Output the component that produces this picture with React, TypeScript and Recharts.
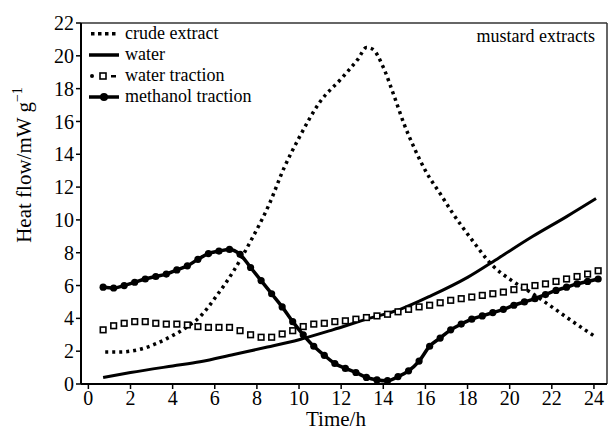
import React from 'react';
import { LineChart, Line, XAxis, YAxis, ReferenceLine } from 'recharts';

const xTicks = [0, 2, 4, 6, 8, 10, 12, 14, 16, 18, 20, 22, 24];
const yTicks = [0, 2, 4, 6, 8, 10, 12, 14, 16, 18, 20, 22];

const crudeT = [0.8, 1.5, 2, 2.8, 3.7, 4.7, 5.3, 6.1, 6.9, 7.7, 8.6, 9.3, 10, 11, 12, 12.8, 13.2, 13.5, 14, 14.5, 15, 15.5, 16, 16.7, 17.3, 18.2, 19.2, 20.1, 21.1, 22, 23, 24.1];
const crudeV = [1.95, 1.95, 2.0, 2.25, 2.75, 3.5, 4.1, 5.4, 6.9, 8.7, 11.0, 13.2, 15.0, 17.2, 18.6, 19.8, 20.5, 20.4, 19.3, 17.6, 15.8, 14.3, 13.0, 11.6, 10.4, 8.8, 7.2, 6.3, 5.5, 4.7, 3.8, 2.85];

const waterT = [0.7, 2, 4, 5.3, 6.9, 8.5, 10, 11.6, 13.2, 14.8, 16.3, 18, 19.5, 21.1, 22.7, 24.1];
const waterV = [0.4, 0.7, 1.1, 1.35, 1.8, 2.25, 2.7, 3.3, 3.95, 4.55, 5.4, 6.5, 7.7, 9.0, 10.2, 11.3];

const markT = [0.7, 1.2, 1.7, 2.2, 2.7, 3.2, 3.7, 4.2, 4.7, 5.2, 5.7, 6.2, 6.7, 7.2, 7.7, 8.2, 8.7, 9.2, 9.7, 10.2, 10.7, 11.2, 11.7, 12.2, 12.7, 13.2, 13.7, 14.2, 14.7, 15.2, 15.7, 16.2, 16.7, 17.2, 17.7, 18.2, 18.7, 19.2, 19.7, 20.2, 20.7, 21.2, 21.7, 22.2, 22.7, 23.2, 23.7, 24.2];
const waterTractionV = [3.3, 3.55, 3.7, 3.8, 3.8, 3.7, 3.65, 3.65, 3.6, 3.5, 3.45, 3.45, 3.45, 3.25, 3.0, 2.85, 2.85, 3.05, 3.25, 3.5, 3.65, 3.7, 3.8, 3.85, 3.95, 4.05, 4.15, 4.25, 4.4, 4.55, 4.7, 4.8, 4.95, 5.1, 5.2, 5.3, 5.4, 5.5, 5.6, 5.75, 5.9, 6.0, 6.1, 6.25, 6.4, 6.55, 6.7, 6.9];
const methanolTractionV = [5.9, 5.85, 6.0, 6.2, 6.4, 6.55, 6.7, 6.95, 7.2, 7.6, 7.95, 8.1, 8.2, 7.9, 7.1, 6.3, 5.5, 4.7, 3.8, 3.0, 2.3, 1.75, 1.25, 0.95, 0.7, 0.4, 0.25, 0.2, 0.45, 0.8, 1.4, 2.3, 2.8, 3.3, 3.65, 3.95, 4.15, 4.35, 4.55, 4.8, 5.0, 5.2, 5.45, 5.7, 5.9, 6.1, 6.25, 6.4];

const zip = (ts: number[], vs: number[]) => ts.map((t, i) => ({ t, v: vs[i] }));
const crudeData = zip(crudeT, crudeV);
const waterData = zip(waterT, waterV);
const waterTractionData = zip(markT, waterTractionV);
const methanolData = zip(markT, methanolTractionV);

const FONT = "'Liberation Serif', 'Times New Roman', Times, serif";

const SquareDot = (props: any) => {
  const { cx, cy, index } = props;
  if (cx == null || cy == null) return <g key={index} />;
  return <rect key={index} x={cx - 2.8} y={cy - 2.8} width={5.6} height={5.6} fill="#fff" stroke="#000" strokeWidth={1.6} />;
};

const CircleDot = (props: any) => {
  const { cx, cy, index } = props;
  if (cx == null || cy == null) return <g key={index} />;
  return <circle key={index} cx={cx} cy={cy} r={3.6} fill="#000" stroke="none" />;
};

const tickStyle = { fontFamily: FONT, fontSize: 20, fill: '#000', style: { fontFamily: FONT } } as any;
const T = (p: any) => <text fontFamily={FONT} style={{ fontFamily: FONT }} fill="#000" {...p} />;

export default function App() {
  return (
    <div style={{ position: 'absolute', left: 0, top: 0, width: 611, height: 432, background: '#fff', fontFamily: FONT }}>
      <LineChart width={611} height={432} margin={{ top: 23, right: 4, bottom: 0, left: 0 }} style={{ fontFamily: FONT }}>
        <XAxis
          dataKey="t"
          type="number"
          domain={[-0.35, 24.62]}
          allowDataOverflow
          ticks={xTicks}
          height={48}
          stroke="#000"
          strokeWidth={2}
          tickSize={5}
          tick={tickStyle}
          tickLine={{ stroke: '#000', strokeWidth: 1.5 }}
        />
        <YAxis
          type="number"
          domain={[0, 22]}
          ticks={yTicks}
          width={81}
          stroke="#000"
          strokeWidth={2}
          tickSize={5}
          tick={tickStyle}
          tickLine={{ stroke: '#000', strokeWidth: 1.5 }}
        />
        <ReferenceLine y={22} stroke="#333" strokeWidth={1.5} ifOverflow="extendDomain" />
        <ReferenceLine x={24.62} stroke="#333" strokeWidth={1.5} ifOverflow="extendDomain" />
        <Line data={crudeData} dataKey="v" type="monotone" stroke="#000" strokeWidth={3.5} strokeDasharray="3 4" dot={false} isAnimationActive={false} />
        <Line data={waterData} dataKey="v" type="monotone" stroke="#000" strokeWidth={3} dot={false} isAnimationActive={false} />
        <Line data={waterTractionData} dataKey="v" type="monotone" stroke="none" strokeWidth={0} dot={<SquareDot />} isAnimationActive={false} />
        <Line data={methanolData} dataKey="v" type="monotone" stroke="#000" strokeWidth={3.5} dot={<CircleDot />} isAnimationActive={false} />
      </LineChart>
      <svg width={611} height={432} style={{ position: 'absolute', left: 0, top: 0, pointerEvents: 'none' }}>
        <T x={31} y={165} transform="rotate(-90 31 165)" textAnchor="middle" fontSize={21}>
          Heat flow/mW g<tspan fontSize={14} dy={-9}>−1</tspan>
        </T>
        <T x={336} y={426} textAnchor="middle" fontSize={21}>Time/h</T>
        <T x={595} y={42} textAnchor="end" fontSize={18}>mustard extracts</T>
        <g>
          {[91, 98, 105, 112].map((x) => (
            <rect key={x} x={x} y={32} width={3.5} height={3.5} fill="#000" />
          ))}
          <T x={125} y={39} fontSize={18}>crude extract</T>
          <line x1={89} x2={119} y1={55} y2={55} stroke="#000" strokeWidth={3.5} />
          <T x={125} y={60} fontSize={18}>water</T>
          <circle cx={92} cy={76} r={2} fill="#000" />
          <rect x={100} y={73} width={6} height={6} fill="#fff" stroke="#000" strokeWidth={1.6} />
          <rect x={111} y={75} width={5} height={2.5} fill="#000" />
          <T x={125} y={81} fontSize={18}>water traction</T>
          <line x1={89} x2={119} y1={97} y2={97} stroke="#000" strokeWidth={3.5} />
          <circle cx={104} cy={97} r={4} fill="#000" />
          <T x={125} y={102} fontSize={18}>methanol traction</T>
        </g>
      </svg>
    </div>
  );
}
